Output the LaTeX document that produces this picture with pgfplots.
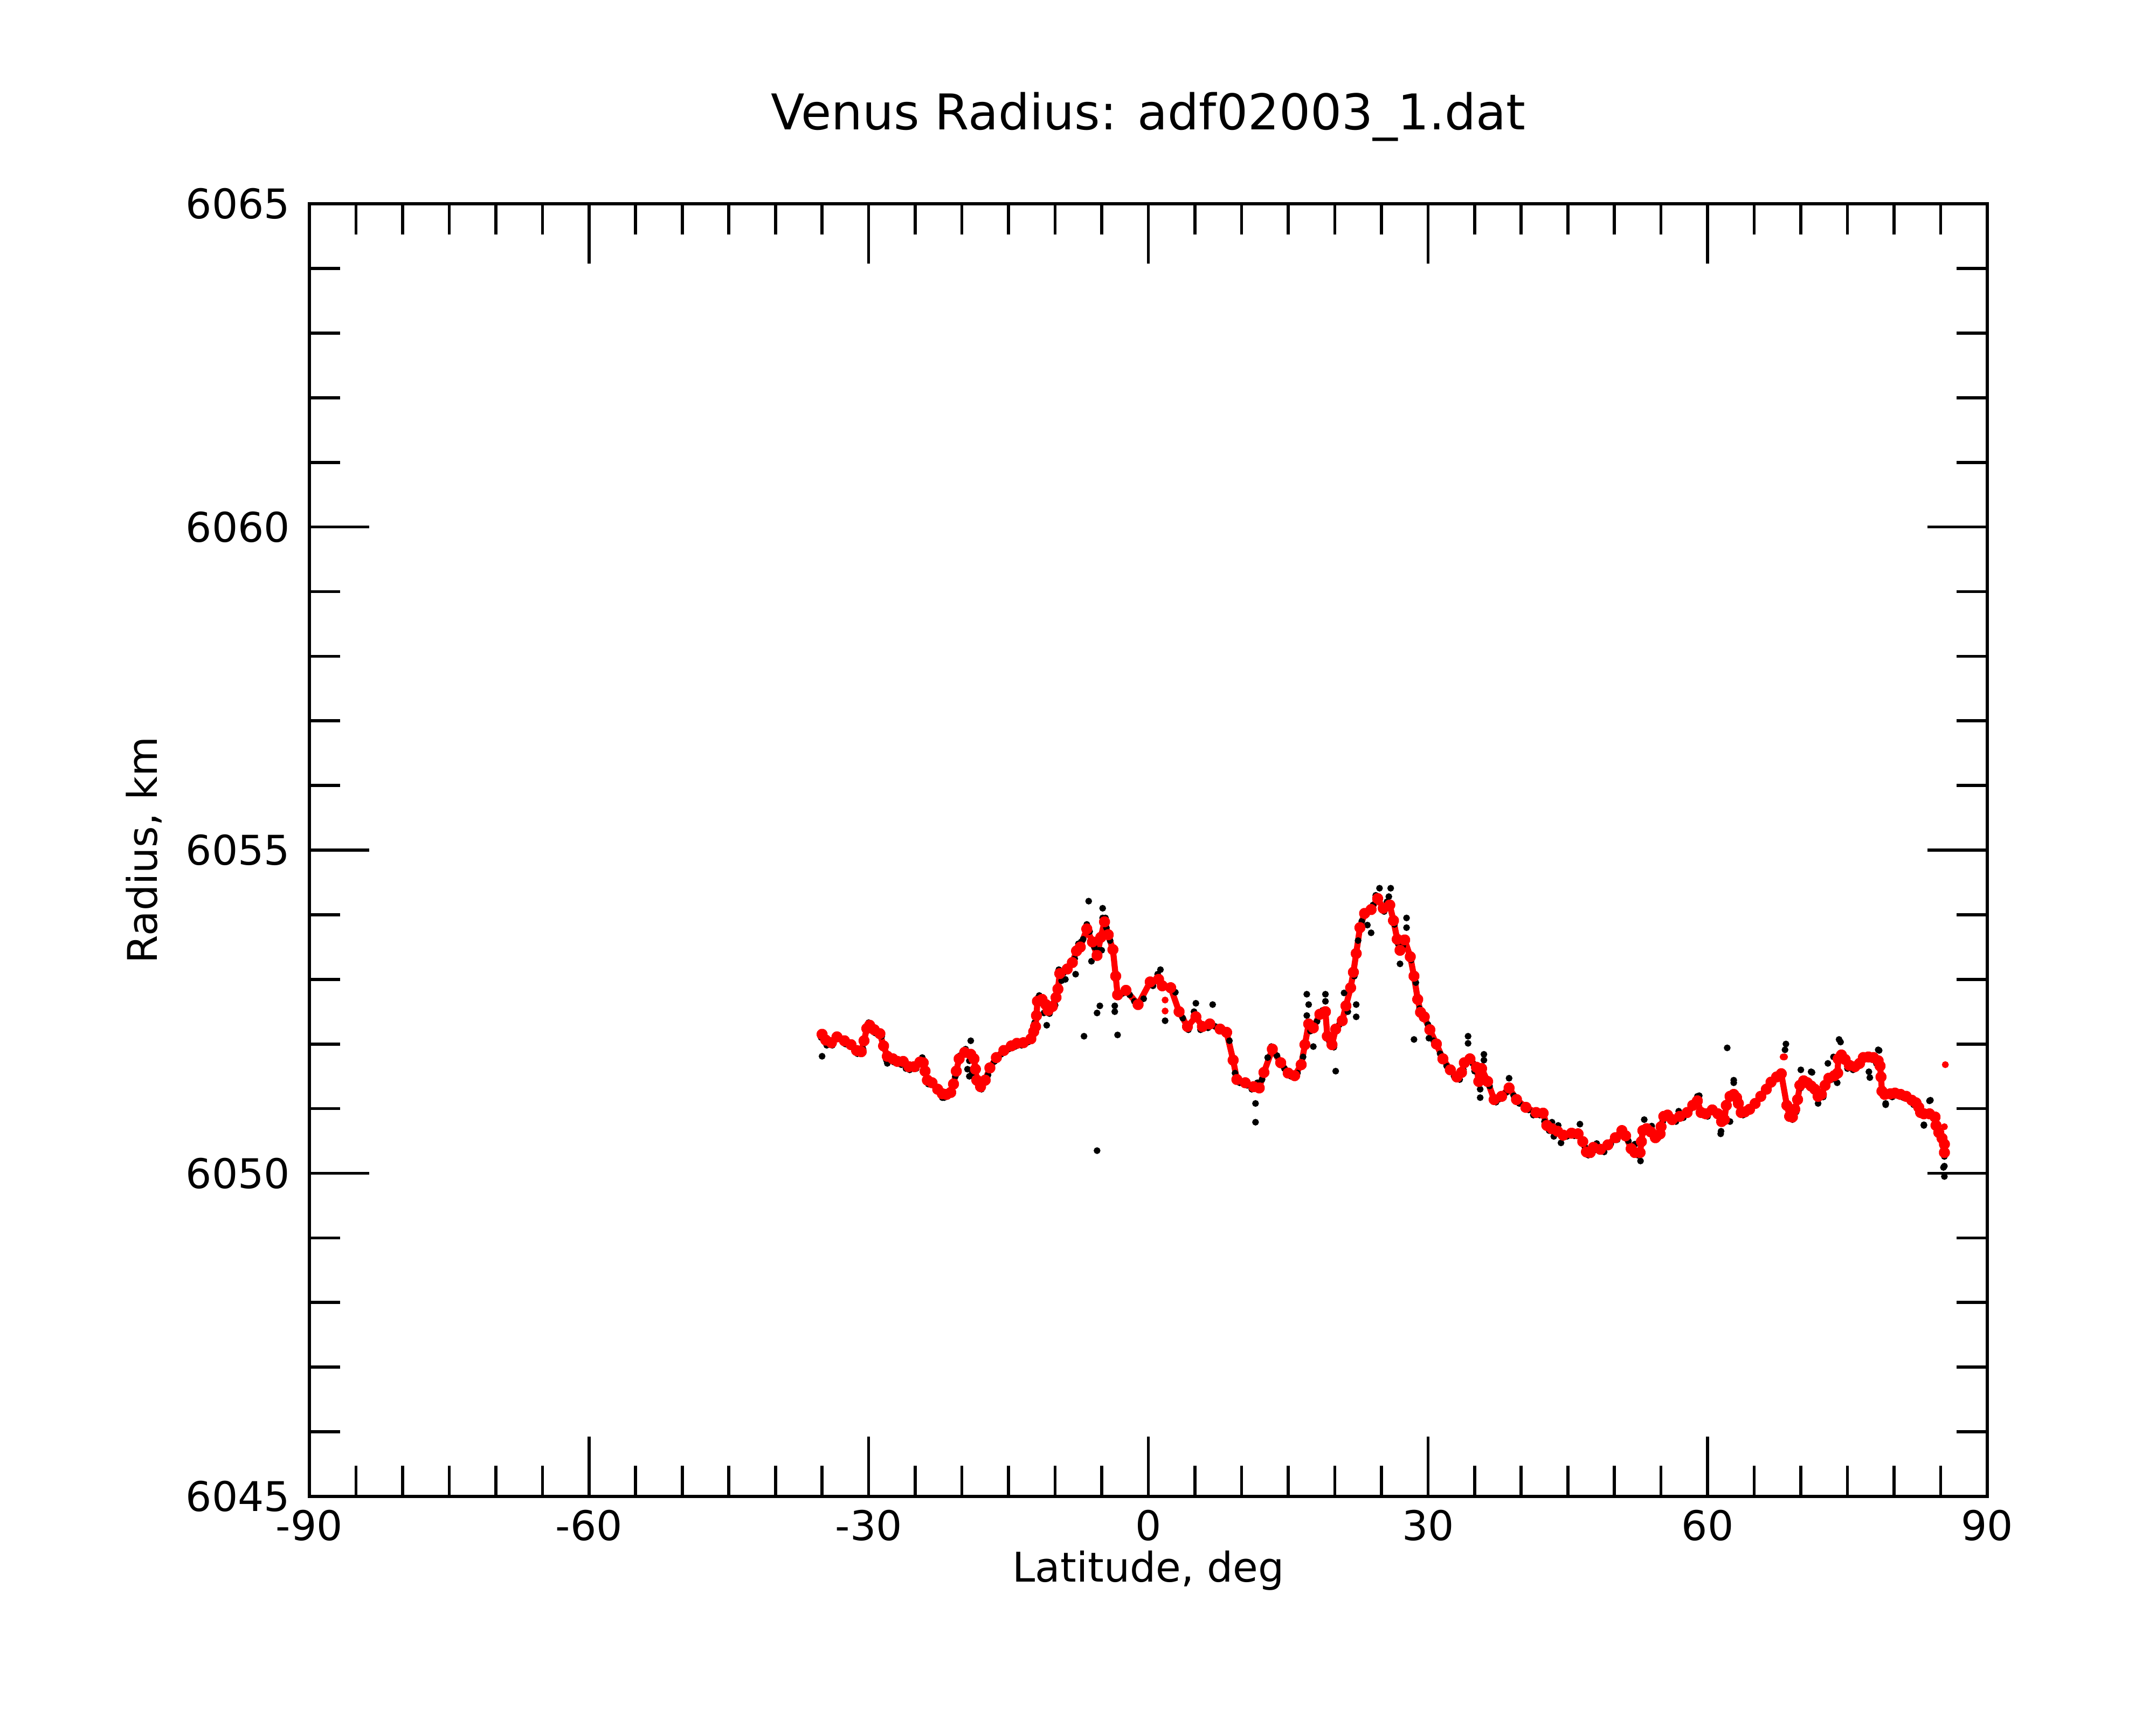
\documentclass[border=0pt]{standalone}
\usepackage{fontspec}
\setmainfont{DejaVu Sans}
\usepackage{pgfplots}
\usepackage{pgfplotstable}
\pgfplotsset{compat=1.18}

\pgfplotstableread{
x y
-35.0 6052.15
-34.6 6052.06
-34.0 6052.02
-33.4 6052.11
-32.6 6052.05
-31.9 6051.99
-31.3 6051.90
-30.8 6051.88
-30.5 6052.05
-30.2 6052.24
-29.9 6052.29
-29.4 6052.22
-28.8 6052.16
-28.4 6051.97
-28.0 6051.81
-27.4 6051.77
-26.9 6051.73
-26.3 6051.73
-25.7 6051.65
-25.1 6051.65
-24.5 6051.72
-24.15 6051.71
-23.95 6051.58
-23.7 6051.44
-23.2 6051.40
-22.6 6051.30
-22.1 6051.23
-21.65 6051.22
-21.2 6051.25
-20.9 6051.38
-20.6 6051.58
-20.3 6051.77
-19.7 6051.87
-19.05 6051.84
-18.7 6051.77
-18.55 6051.61
-18.4 6051.44
-18.0 6051.34
-17.5 6051.44
-17.0 6051.63
-16.3 6051.79
-15.5 6051.90
-14.7 6051.97
-14.1 6052.01
-13.4 6052.02
-12.6 6052.08
-12.3 6052.19
-12.1 6052.27
-12.0 6052.44
-11.9 6052.66
-11.4 6052.69
-11.0 6052.61
-10.75 6052.52
-10.3 6052.58
-9.9 6052.72
-9.7 6052.85
-9.5 6053.09
-8.7 6053.16
-8.15 6053.26
-7.7 6053.44
-7.3 6053.50
-6.6 6053.78
-6.0 6053.58
-5.5 6053.37
-5.1 6053.65
-4.7 6053.89
-4.3 6053.69
-3.8 6053.46
-3.5 6053.05
-3.3 6052.76
-2.4 6052.83
-1.1 6052.61
0.2 6052.96
1.1 6053.00
1.5 6052.90
2.4 6052.87
3.3 6052.50
4.2 6052.27
5.1 6052.42
5.8 6052.27
6.6 6052.31
7.7 6052.23
8.4 6052.18
9.1 6051.75
9.5 6051.45
10.4 6051.40
11.3 6051.34
11.9 6051.32
12.4 6051.56
13.3 6051.92
14.2 6051.71
15.0 6051.55
15.7 6051.51
16.4 6051.68
16.8 6051.99
17.2 6052.31
17.7 6052.25
18.4 6052.46
19.0 6052.50
19.2 6052.12
19.7 6051.99
20.1 6052.23
20.8 6052.36
21.2 6052.59
21.7 6052.87
22.0 6053.11
22.3 6053.40
22.7 6053.80
23.2 6054.02
23.9 6054.08
24.6 6054.25
25.2 6054.10
25.9 6054.15
26.3 6053.91
26.7 6053.62
27.0 6053.45
27.5 6053.61
28.1 6053.35
28.5 6053.05
28.9 6052.69
29.2 6052.49
29.6 6052.42
30.2 6052.22
30.9 6052.00
31.6 6051.77
32.4 6051.60
33.1 6051.49
33.6 6051.56
33.9 6051.71
34.5 6051.77
35.2 6051.64
35.45 6051.42
35.6 6051.58
35.75 6051.62
36.4 6051.42
37.1 6051.14
37.9 6051.19
38.7 6051.32
39.5 6051.14
40.5 6051.02
41.6 6050.94
42.35 6050.93
42.75 6050.74
43.3 6050.69
43.9 6050.65
44.5 6050.59
45.4 6050.62
46.1 6050.61
46.6 6050.49
47.0 6050.33
47.4 6050.32
47.75 6050.40
48.5 6050.37
49.3 6050.44
50.1 6050.55
50.8 6050.66
51.2 6050.58
51.8 6050.38
52.2 6050.32
52.75 6050.32
52.9 6050.49
53.05 6050.66
53.45 6050.69
53.9 6050.64
54.4 6050.55
54.9 6050.61
55.0 6050.72
55.3 6050.88
55.7 6050.90
56.2 6050.83
57.0 6050.88
57.8 6050.94
58.4 6051.05
58.9 6051.12
59.3 6050.94
59.8 6050.92
60.5 6050.98
61.1 6050.92
61.5 6050.80
61.8 6050.83
62.0 6051.05
62.4 6051.19
62.8 6051.22
63.1 6051.17
63.3 6051.08
63.6 6050.94
64.0 6050.95
64.5 6050.99
65.1 6051.08
65.7 6051.19
66.3 6051.30
66.8 6051.41
67.4 6051.49
67.9 6051.54
68.5 6051.05
68.8 6050.88
69.1 6050.87
69.35 6050.99
69.65 6051.14
69.9 6051.36
70.3 6051.43
70.7 6051.40
71.1 6051.35
71.5 6051.30
71.85 6051.19
72.2 6051.22
72.6 6051.36
73.0 6051.47
73.6 6051.51
73.95 6051.55
74.0 6051.77
74.35 6051.83
74.75 6051.76
75.2 6051.67
75.8 6051.65
76.3 6051.70
76.7 6051.79
77.25 6051.80
77.8 6051.79
78.3 6051.74
78.5 6051.66
78.6 6051.49
78.7 6051.27
79.0 6051.22
79.6 6051.23
80.1 6051.24
80.7 6051.22
81.3 6051.19
81.9 6051.13
82.35 6051.09
82.65 6051.02
82.85 6050.94
83.2 6050.92
83.8 6050.92
84.4 6050.87
84.5 6050.74
84.8 6050.63
85.15 6050.54
85.4 6050.45
85.4 6050.32
}\redline

\pgfplotstableread{
x y
1.8 6052.68
1.8 6052.51
68.1 6051.80
68.25 6051.80
85.5 6051.68
85.4 6050.72
}\redextra

\pgfplotstableread{
x y
-35.1 6052.10
-35.0 6051.81
-34.5 6051.98
-33.9 6051.98
-33.2 6052.12
-32.5 6052.00
-31.8 6051.95
-31.2 6051.85
-30.6 6051.92
-30.0 6052.33
-29.3 6052.17
-28.6 6052.12
-28.1 6051.75
-28.0 6051.70
-27.3 6051.72
-26.5 6051.68
-26.0 6051.62
-25.6 6051.60
-24.9 6051.62
-24.25 6051.79
-23.6 6051.38
-23.0 6051.36
-22.4 6051.25
-22.1 6051.17
-21.9 6051.17
-21.3 6051.22
-20.7 6051.50
-20.2 6051.82
-19.6 6051.92
-19.05 6052.05
-19.4 6051.61
-19.2 6051.50
-19.2 6051.74
-18.9 6051.55
-18.6 6051.80
-18.3 6051.38
-17.9 6051.30
-17.2 6051.52
-16.5 6051.73
-16.0 6051.82
-15.8 6051.84
-15.0 6051.92
-14.3 6051.96
-13.6 6051.98
-13.0 6052.05
-12.9 6052.03
-12.4 6052.12
-12.2 6052.33
-11.8 6052.72
-11.7 6052.75
-11.3 6052.62
-11.2 6052.48
-10.9 6052.29
-10.6 6052.47
-10.1 6052.65
-10.0 6052.60
-9.6 6053.15
-9.3 6052.98
-9.1 6053.10
-8.9 6053.00
-8.4 6053.22
-7.9 6053.32
-7.8 6053.08
-7.5 6053.55
-7.2 6053.58
-7.0 6053.62
-6.9 6052.12
-6.6 6053.85
-6.4 6054.21
-6.3 6053.74
-6.1 6053.28
-5.8 6053.50
-5.5 6052.48
-5.5 6050.35
-5.3 6053.45
-5.2 6052.59
-5.0 6053.45
-4.9 6054.10
-4.9 6053.95
-4.6 6053.95
-4.5 6053.80
-4.1 6053.60
-3.6 6052.59
-3.6 6052.50
-3.3 6052.14
-2.8 6052.78
-2.0 6052.76
-1.5 6052.66
-0.5 6052.70
0.5 6052.90
1.0 6053.08
1.3 6053.15
1.8 6052.36
2.9 6052.80
3.7 6052.40
4.3 6052.22
4.9 6052.50
5.1 6052.63
5.6 6052.22
6.0 6052.25
6.4 6052.25
6.9 6052.61
7.2 6052.27
8.0 6052.20
8.7 6052.05
9.3 6051.55
9.8 6051.40
10.6 6051.36
11.1 6051.30
11.5 6051.08
11.5 6050.79
11.7 6051.40
12.2 6051.45
12.8 6051.79
13.2 6051.96
13.8 6051.82
14.6 6051.62
15.3 6051.50
16.0 6051.55
16.6 6051.80
17.0 6052.77
17.2 6052.61
17.0 6052.44
17.4 6052.20
17.7 6051.96
18.1 6052.35
18.7 6052.52
19.0 6052.77
19.0 6052.66
19.4 6052.05
19.9 6051.95
20.1 6051.58
20.5 6052.30
21.0 6052.79
21.4 6052.50
22.3 6052.61
22.3 6052.42
22.1 6053.05
22.5 6053.60
22.9 6053.90
23.4 6054.05
23.5 6053.84
23.9 6053.72
24.1 6054.15
24.4 6054.30
24.8 6054.41
25.3 6054.05
25.6 6054.20
25.8 6054.28
26.0 6054.41
26.4 6053.85
26.8 6053.55
27.0 6053.24
27.3 6053.52
27.7 6053.95
27.7 6053.80
28.2 6053.30
28.5 6052.07
28.7 6052.95
29.1 6052.55
29.4 6052.40
30.0 6052.30
30.1 6052.09
30.6 6052.05
31.3 6051.85
32.0 6051.66
32.8 6051.50
33.4 6051.45
33.8 6051.60
34.3 6052.12
34.3 6052.01
34.8 6051.70
35.0 6051.58
35.6 6051.17
35.6 6051.30
36.0 6051.84
36.0 6051.75
36.6 6051.35
37.3 6051.10
37.7 6051.15
38.4 6051.25
38.7 6051.47
39.2 6051.20
39.8 6051.08
40.3 6051.00
40.8 6050.98
41.3 6050.90
42.0 6050.90
42.5 6050.80
43.0 6050.66
43.3 6050.79
43.5 6050.57
43.97 6050.74
44.27 6050.47
44.9 6050.57
45.7 6050.58
46.3 6050.76
46.8 6050.42
47.2 6050.28
47.9 6050.36
48.1 6050.46
48.9 6050.33
49.6 6050.45
50.3 6050.52
50.9 6050.62
51.5 6050.50
52.0 6050.35
52.2 6050.45
52.5 6050.28
52.8 6050.19
53.2 6050.83
53.6 6050.65
54.0 6050.73
54.2 6050.54
54.7 6050.55
55.2 6050.80
55.9 6050.85
56.6 6050.80
56.9 6050.96
57.4 6050.86
58.1 6050.98
58.6 6051.07
58.9 6051.19
59.1 6051.20
59.5 6050.90
60.0 6050.88
60.8 6050.95
61.4 6050.82
61.44 6050.65
61.4 6050.61
62.1 6051.94
62.4 6050.80
62.8 6051.44
62.8 6051.40
63.3 6051.05
63.8 6050.90
64.3 6050.95
64.9 6051.05
65.5 6051.15
66.0 6051.25
66.6 6051.38
67.2 6051.45
67.7 6051.50
68.3 6051.91
68.4 6052.00
68.3 6051.06
68.7 6050.85
69.1 6050.83
69.5 6050.95
70.0 6051.60
70.0 6051.32
70.5 6051.38
71.1 6051.57
71.2 6051.56
71.85 6051.08
72.4 6051.18
72.9 6051.70
73.3 6051.45
73.5 6051.80
73.9 6051.40
74.1 6052.07
74.26 6052.03
74.6 6051.75
75.0 6051.62
75.6 6051.60
76.1 6051.66
76.6 6051.75
77.3 6051.57
77.4 6051.48
77.6 6051.76
78.1 6051.70
78.3 6051.91
78.4 6051.90
79.1 6051.06
79.1 6051.08
79.8 6051.18
80.4 6051.20
81.0 6051.17
81.6 6051.14
82.1 6051.06
82.6 6050.98
83.2 6050.75
83.2 6050.74
83.8 6051.12
83.9 6051.13
84.2 6050.85
84.6 6050.68
85.0 6050.60
85.3 6050.40
85.4 6050.26
85.4 6050.11
85.4 6049.95
85.3 6050.09
}\blackpts

\begin{document}
\begin{tikzpicture}
\path[use as bounding box] (-2.87cm,-2.12cm) rectangle (17.13cm,13.88cm);
\begin{axis}[
  at={(0,0)}, anchor=south west,
  scale only axis, width=15.565cm, height=11.99cm,
  xmin=-90, xmax=90, ymin=6045, ymax=6065,
  xtick={-90,-60,...,90},
  minor xtick={-85,-80,...,85},
  ytick={6045,6050,...,6065},
  minor ytick={6046,6047,...,6064},
  tick align=inside,
  xtick pos=both, ytick pos=both,
  xticklabel pos=bottom, yticklabel pos=left,
  major tick length=0.553cm, minor tick length=0.283cm,
  axis line style={line width=0.8pt},
  every tick/.style={black, line width=0.8pt},
  /pgf/number format/assume math mode=true,
  /pgf/number format/1000 sep={},
  ticklabel style={font=\fontsize{10.8}{13}\selectfont},
  yticklabel style={xshift=-0.055cm},
  title={Venus Radius: adf02003\_1.dat},
  title style={at={(0.5,1)}, anchor=base, yshift=0.477cm, font=\fontsize{13.0}{16}\selectfont},
  xlabel={Latitude, deg},
  xlabel style={at={(axis description cs:0.5,0)}, anchor=base, yshift=-0.795cm, font=\fontsize{10.8}{13}\selectfont},
  ylabel={Radius, km},
  ylabel style={at={(axis description cs:-0.0906,0.5)}, anchor=base, font=\fontsize{10.8}{13}\selectfont},
]
\addplot[only marks, mark=*, mark size=0.68pt, black] table[x=x, y=y] {\blackpts};
\addplot[red, line width=1.6pt, line join=round, line cap=round, mark=*, mark size=0.7pt, mark options={fill=red, draw=red}] table[x=x, y=y] {\redline};
\addplot[only marks, mark=*, mark size=0.7pt, red] table[x=x, y=y] {\redextra};
\end{axis}
\end{tikzpicture}
\end{document}
